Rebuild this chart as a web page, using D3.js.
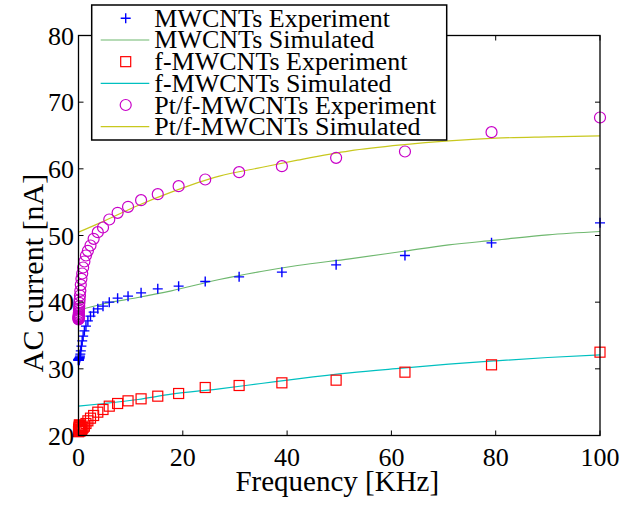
<!DOCTYPE html>
<html><head><meta charset="utf-8">
<script src="https://cdn.jsdelivr.net/npm/d3@7"></script>
<style>html,body{margin:0;padding:0;background:#fff;}svg{display:block;}</style>
</head><body>
<svg id="c" width="625" height="506"></svg>
<script>
const freq = [100, 79.2, 62.6, 49.4, 39.0, 30.8, 24.3, 19.2, 15.2, 12.0, 9.5, 7.5, 5.9, 4.7, 3.7, 2.9, 2.3, 1.8, 1.43, 1.13,
  0.89, 0.71, 0.56, 0.44, 0.35, 0.28, 0.22, 0.17, 0.14, 0.11, 0.087, 0.069, 0.054, 0.043, 0.034, 0.027, 0.021, 0.017, 0.013, 0.011];
const mwExp = [51.9, 48.9, 47.0, 45.6, 44.5, 43.8, 43.1, 42.4, 42.0, 41.4, 40.9, 40.6, 40.0, 39.4, 39.0, 38.5, 37.9, 37.2, 36.4, 35.7,
  34.9, 34.2, 33.4, 32.7, 32.2, 31.9, 31.7, 31.6, 31.5, 31.5, 31.4, 31.4, 31.4, 31.4, 31.4, 31.4, 31.3, 31.3, 31.3, 31.3];
const fExp = [32.5, 30.6, 29.5, 28.3, 27.9, 27.5, 27.2, 26.3, 25.9, 25.5, 25.2, 24.8, 24.4, 23.9, 23.5, 23.0, 22.6, 22.2, 21.8, 21.4,
  21.2, 21.0, 20.9, 20.8, 20.7, 21.3, 21.5, 21.6, 21.4, 21.2, 21.0, 20.9, 20.8, 20.8, 20.7, 20.7, 20.6, 20.6, 20.6, 20.6];
const ptExp = [67.7, 65.5, 62.6, 61.65, 60.4, 59.5, 58.4, 57.4, 56.2, 55.3, 54.3, 53.4, 52.4, 51.2, 50.5, 49.5, 48.5, 47.7, 47.0, 46.1,
  45.2, 44.3, 43.5, 42.6, 41.7, 41.0, 40.4, 39.9, 39.4, 39.0, 38.7, 38.4, 38.2, 38.0, 37.9, 37.8, 37.7, 37.6, 37.5, 37.4];

// Simulated curves
const simFreq = [0, 5, 11.4, 17.8, 27, 35, 42, 52, 62, 71, 80, 90, 100];
const mwSim = [38.8, 39.8, 40.7, 41.7, 43.4, 44.6, 45.5, 46.5, 47.6, 48.6, 49.3, 50.1, 50.6];
const fSim  = [24.4, 24.8, 25.4, 26.2, 27.0, 27.8, 28.5, 29.4, 30.1, 30.7, 31.2, 31.7, 32.1];
const ptSim = [50.5, 52.2, 54.5, 56.5, 58.9, 60.2, 61.3, 62.7, 63.6, 64.2, 64.6, 64.8, 64.95];

const xTicks = [0, 20, 40, 60, 80, 100];
const yTicks = [20, 30, 40, 50, 60, 70, 80];
const legendLabels = ["MWCNTs Experiment", "MWCNTs Simulated", "f-MWCNTs Experiment", "f-MWCNTs Simulated", "Pt/f-MWCNTs Experiment", "Pt/f-MWCNTs Simulated"];

const C = {blue: "#0000ff", red: "#ff0000", mag: "#c800c8", green: "#6fb86f", cyan: "#00c0c0", yellow: "#c8c81e"};
const FONT = "'Liberation Serif','Times New Roman',serif";

const svg = d3.select("#c").attr("font-family", FONT);
const L = 78.5, R = 600, T = 35.5, B = 435.5;
const x = d3.scaleLinear().domain([0, 100]).range([L, R]);
const y = d3.scaleLinear().domain([20, 80]).range([B, T]);

const plot = svg.append("g");

const line = (ys) => d3.line().x((d, i) => x(simFreq[i])).y(d => y(d)).curve(d3.curveMonotoneX)(ys);
[[mwSim, C.green], [fSim, C.cyan], [ptSim, C.yellow]].forEach(([ys, col]) => {
  plot.append("path").attr("d", line(ys)).attr("fill", "none").attr("stroke", col).attr("stroke-width", 1.2);
});

function plus(g, cx, cy, col) {
  g.append("path").attr("d", `M${cx-5},${cy}H${cx+5}M${cx},${cy-5}V${cy+5}`).attr("stroke", col).attr("stroke-width", 1.4).attr("fill", "none");
}
function square(g, cx, cy, col) {
  g.append("rect").attr("x", cx-5).attr("y", cy-5).attr("width", 10).attr("height", 10).attr("fill", "none").attr("stroke", col).attr("stroke-width", 1.2);
}
function circle(g, cx, cy, col) {
  g.append("circle").attr("cx", cx).attr("cy", cy).attr("r", 5.5).attr("fill", "none").attr("stroke", col).attr("stroke-width", 1.2);
}
freq.forEach((f, i) => plus(plot, x(f), y(mwExp[i]), C.blue));
freq.forEach((f, i) => square(plot, x(f), y(fExp[i]), C.red));
freq.forEach((f, i) => circle(plot, x(f), y(ptExp[i]), C.mag));

const ax = svg.append("g").attr("stroke", "#000").attr("fill", "none");
ax.append("rect").attr("x", L).attr("y", T).attr("width", R - L).attr("height", B - T).attr("stroke-width", 1.3);
xTicks.forEach(t => {
  ax.append("line").attr("x1", x(t)).attr("x2", x(t)).attr("y1", B).attr("y2", B - 5).attr("stroke-width", 1);
  ax.append("line").attr("x1", x(t)).attr("x2", x(t)).attr("y1", T).attr("y2", T + 5).attr("stroke-width", 1);
});
yTicks.forEach(t => {
  ax.append("line").attr("x1", L).attr("x2", L + 5).attr("y1", y(t)).attr("y2", y(t)).attr("stroke-width", 1);
  ax.append("line").attr("x1", R).attr("x2", R - 5).attr("y1", y(t)).attr("y2", y(t)).attr("stroke-width", 1);
});

svg.append("g").selectAll("text").data(xTicks).join("text")
  .attr("x", d => x(d)).attr("y", 466).attr("text-anchor", "middle").attr("font-size", 26).text(d => d);
svg.append("g").selectAll("text").data(yTicks).join("text")
  .attr("x", 74).attr("y", d => y(d) + 9).attr("text-anchor", "end").attr("font-size", 26).text(d => d);

svg.append("text").attr("x", (L + R) / 2 - 2).attr("y", 491).attr("text-anchor", "middle").attr("font-size", 29).text("Frequency [KHz]");
svg.append("text").attr("transform", "translate(43,273) rotate(-90)").attr("text-anchor", "middle").attr("font-size", 30).text("AC current [nA]");

const lg = svg.append("g");
lg.append("rect").attr("x", 91.7).attr("y", 5).attr("width", 355).attr("height", 135).attr("fill", "#fff").attr("stroke", "#000").attr("stroke-width", 1.5);
const rowY = i => 18.3 + i * 21.68;
legendLabels.forEach((lab, i) => {
  const cy = rowY(i);
  if (i === 0) plus(lg, 125.7, cy, C.blue);
  if (i === 2) square(lg, 125.7, cy, C.red);
  if (i === 4) circle(lg, 125.7, cy, C.mag);
  if (i % 2 === 1) {
    const col = [C.green, C.cyan, C.yellow][(i - 1) / 2];
    lg.append("line").attr("x1", 100.7).attr("x2", 149.3).attr("y1", cy).attr("y2", cy).attr("stroke", col).attr("stroke-width", 1.2);
  }
  lg.append("text").attr("x", 154.3).attr("y", cy + 8.5).attr("font-size", 26).text(lab);
});
</script>
</body></html>
